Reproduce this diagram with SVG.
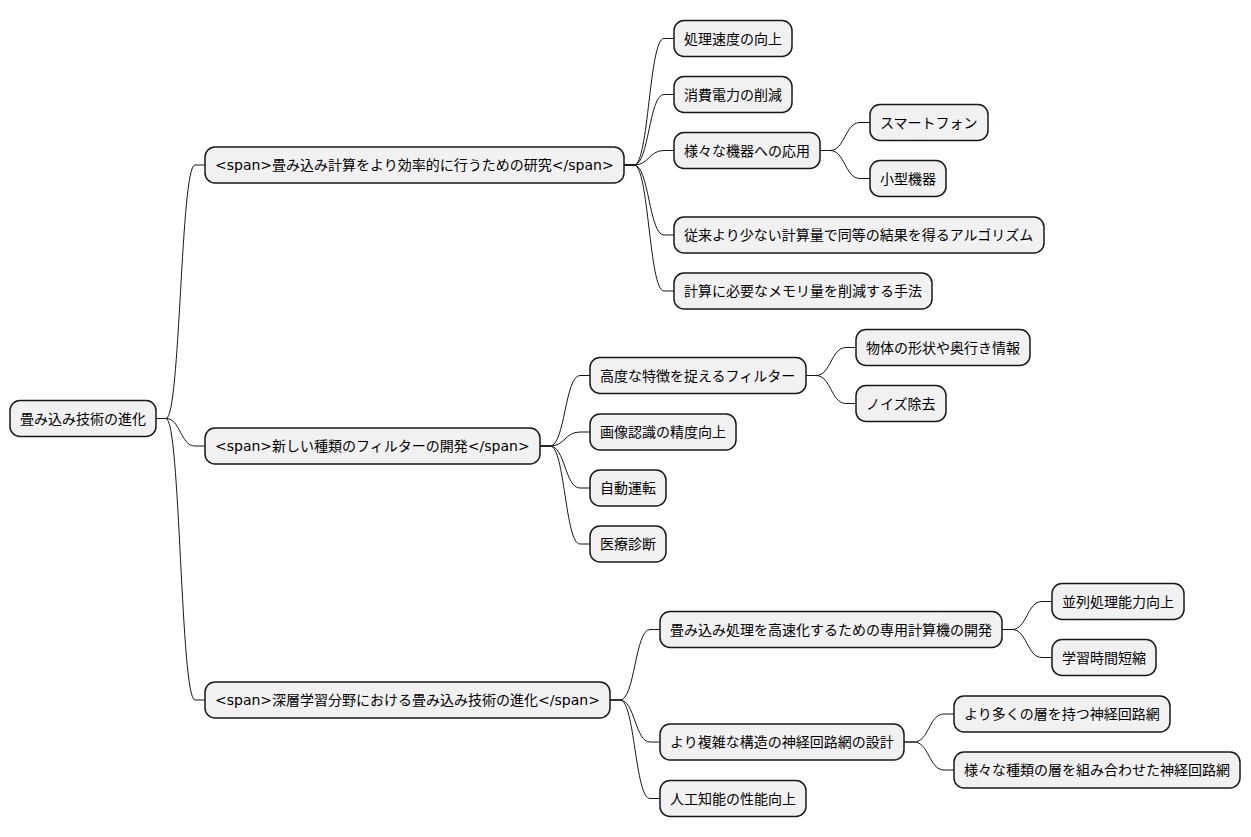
<svg xmlns="http://www.w3.org/2000/svg" width="1251" height="837" viewBox="0 0 1251 837">
<style>
.n rect{fill:#F1F1F1;stroke:#181818;stroke-width:1.5}
.n text{font-family:"DejaVu Sans","Noto Sans CJK JP",sans-serif;font-size:14px;fill:#000}
#connectors path{fill:none;stroke:#181818;stroke-width:1}
</style>
<rect width="1251" height="837" fill="#FFFFFF"/>
<g id="connectors">
<path d="M156,418.5 L166,418.5 C180.5,418.5 180.5,165 195,165 L205,165"/>
<path d="M156,418.5 L166,418.5 C180.5,418.5 180.5,446 195,446 L205,446"/>
<path d="M156,418.5 L166,418.5 C180.5,418.5 180.5,700 195,700 L205,700"/>
<path d="M624,165 L634,165 C649,165 649,38.5 664,38.5 L674,38.5"/>
<path d="M624,165 L634,165 C649,165 649,94.5 664,94.5 L674,94.5"/>
<path d="M624,165 L634,165 C649,165 649,150.5 664,150.5 L674,150.5"/>
<path d="M624,165 L634,165 C649,165 649,235 664,235 L674,235"/>
<path d="M624,165 L634,165 C649,165 649,291 664,291 L674,291"/>
<path d="M820,150.5 L830,150.5 C845,150.5 845,122.5 860,122.5 L870,122.5"/>
<path d="M820,150.5 L830,150.5 C845,150.5 845,178.5 860,178.5 L870,178.5"/>
<path d="M540,446 L550,446 C565,446 565,375.5 580,375.5 L590,375.5"/>
<path d="M540,446 L550,446 C565,446 565,432 580,432 L590,432"/>
<path d="M540,446 L550,446 C565,446 565,488 580,488 L590,488"/>
<path d="M540,446 L550,446 C565,446 565,544 580,544 L590,544"/>
<path d="M806,375.5 L816,375.5 C831,375.5 831,347.5 846,347.5 L856,347.5"/>
<path d="M806,375.5 L816,375.5 C831,375.5 831,403.5 846,403.5 L856,403.5"/>
<path d="M610,700 L620,700 C635,700 635,629.5 650,629.5 L660,629.5"/>
<path d="M610,700 L620,700 C635,700 635,742 650,742 L660,742"/>
<path d="M610,700 L620,700 C635,700 635,798.5 650,798.5 L660,798.5"/>
<path d="M1002,629.5 L1012,629.5 C1027,629.5 1027,601.5 1042,601.5 L1052,601.5"/>
<path d="M1002,629.5 L1012,629.5 C1027,629.5 1027,657.5 1042,657.5 L1052,657.5"/>
<path d="M904,742 L914,742 C929,742 929,714 944,714 L954,714"/>
<path d="M904,742 L914,742 C929,742 929,770 944,770 L954,770"/>
</g>
<g id="root" class="n"><rect x="10" y="400.5" width="146" height="36" rx="10"/><text x="20" y="423.5">畳み込み技術の進化</text></g>
<g id="a" class="n"><rect x="205" y="147" width="419" height="36" rx="10"/><text x="215" y="170">&lt;span&gt;畳み込み計算をより効率的に行うための研究&lt;/span&gt;</text></g>
<g id="b" class="n"><rect x="205" y="428" width="335" height="36" rx="10"/><text x="215" y="451">&lt;span&gt;新しい種類のフィルターの開発&lt;/span&gt;</text></g>
<g id="c" class="n"><rect x="205" y="682" width="405" height="36" rx="10"/><text x="215" y="705">&lt;span&gt;深層学習分野における畳み込み技術の進化&lt;/span&gt;</text></g>
<g id="a1" class="n"><rect x="674" y="20.5" width="118" height="36" rx="10"/><text x="684" y="43.5">処理速度の向上</text></g>
<g id="a2" class="n"><rect x="674" y="76.5" width="118" height="36" rx="10"/><text x="684" y="99.5">消費電力の削減</text></g>
<g id="a3" class="n"><rect x="674" y="132.5" width="146" height="36" rx="10"/><text x="684" y="155.5">様々な機器への応用</text></g>
<g id="a3a" class="n"><rect x="870" y="104.5" width="118" height="36" rx="10"/><text x="880" y="127.5">スマートフォン</text></g>
<g id="a3b" class="n"><rect x="870" y="160.5" width="76" height="36" rx="10"/><text x="880" y="183.5">小型機器</text></g>
<g id="a4" class="n"><rect x="674" y="217" width="370" height="36" rx="10"/><text x="684" y="240">従来より少ない計算量で同等の結果を得るアルゴリズム</text></g>
<g id="a5" class="n"><rect x="674" y="273" width="258" height="36" rx="10"/><text x="684" y="296">計算に必要なメモリ量を削減する手法</text></g>
<g id="b1" class="n"><rect x="590" y="357.5" width="216" height="36" rx="10"/><text x="600" y="380.5">高度な特徴を捉えるフィルター</text></g>
<g id="b1a" class="n"><rect x="856" y="329.5" width="174" height="36" rx="10"/><text x="866" y="352.5">物体の形状や奥行き情報</text></g>
<g id="b1b" class="n"><rect x="856" y="385.5" width="90" height="36" rx="10"/><text x="866" y="408.5">ノイズ除去</text></g>
<g id="b2" class="n"><rect x="590" y="414" width="146" height="36" rx="10"/><text x="600" y="437">画像認識の精度向上</text></g>
<g id="b3" class="n"><rect x="590" y="470" width="76" height="36" rx="10"/><text x="600" y="493">自動運転</text></g>
<g id="b4" class="n"><rect x="590" y="526" width="76" height="36" rx="10"/><text x="600" y="549">医療診断</text></g>
<g id="c1" class="n"><rect x="660" y="611.5" width="342" height="36" rx="10"/><text x="670" y="634.5">畳み込み処理を高速化するための専用計算機の開発</text></g>
<g id="c1a" class="n"><rect x="1052" y="583.5" width="132" height="36" rx="10"/><text x="1062" y="606.5">並列処理能力向上</text></g>
<g id="c1b" class="n"><rect x="1052" y="639.5" width="104" height="36" rx="10"/><text x="1062" y="662.5">学習時間短縮</text></g>
<g id="c2" class="n"><rect x="660" y="724" width="244" height="36" rx="10"/><text x="670" y="747">より複雑な構造の神経回路網の設計</text></g>
<g id="c2a" class="n"><rect x="954" y="696" width="216" height="36" rx="10"/><text x="964" y="719">より多くの層を持つ神経回路網</text></g>
<g id="c2b" class="n"><rect x="954" y="752" width="286" height="36" rx="10"/><text x="964" y="775">様々な種類の層を組み合わせた神経回路網</text></g>
<g id="c3" class="n"><rect x="660" y="780.5" width="146" height="36" rx="10"/><text x="670" y="803.5">人工知能の性能向上</text></g>
</svg>
